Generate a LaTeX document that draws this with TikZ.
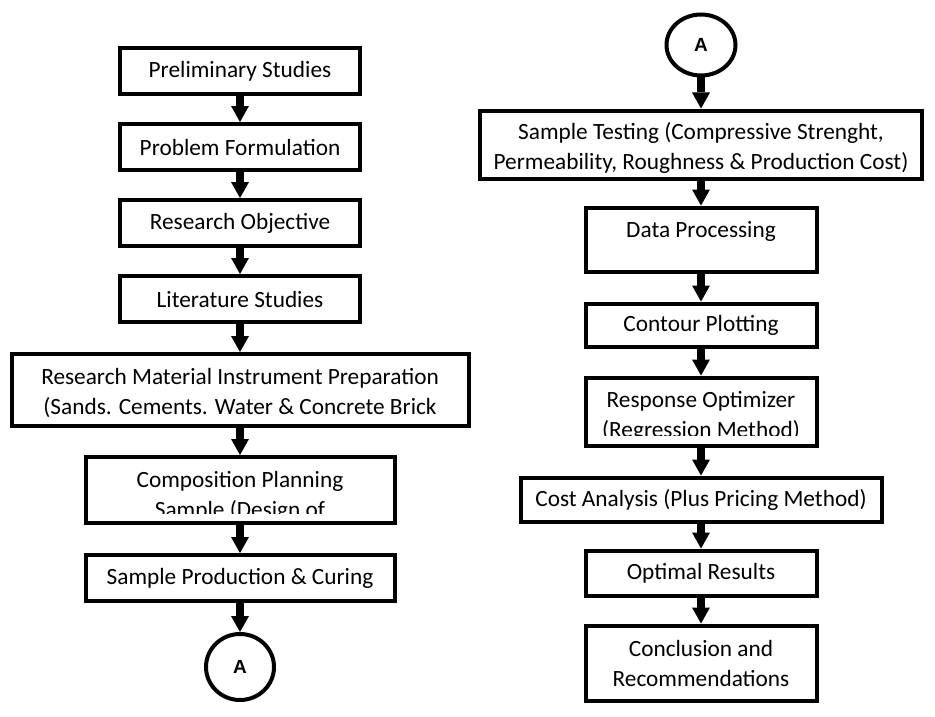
\documentclass[tikz,border=0pt]{standalone}
\usepackage{fontspec}
\setmainfont{Carlito}
\newfontfamily\linkfont{Liberation Sans}
\usetikzlibrary{shapes.geometric,arrows.meta,positioning,calc}
\tikzset{
	flowbox/.style={rectangle, draw=black, line width=4pt, fill=white, inner sep=0pt,
		align=center, font=\fontsize{23.3}{30}\selectfont},
	flowtext/.style={inner sep=0pt, align=center, anchor=north, font=\fontsize{23.3}{30}\selectfont},
	linkcirc/.style={ellipse, draw=black, line width=4pt, fill=white, inner sep=0pt,
		font=\linkfont\bfseries\fontsize{19}{20}\selectfont},
	flowarr/.style={-{Triangle[length=16pt,width=18pt,line width=0pt]}, line width=8pt}
}
\begin{document}
\begin{tikzpicture}[x=1pt, y=-1pt]
	\useasboundingbox (0,0) rectangle (935,717);
	% left column
	\node[flowbox, minimum width=240pt, minimum height=46pt] (prelim) at (240,71) {Preliminary Studies};
	\node[flowbox, minimum width=240pt, minimum height=46pt, below=26pt of prelim] (problem) {Problem Formulation};
	\node[flowbox, minimum width=240pt, minimum height=46pt, below=26pt of problem] (objective) {Research Objective};
	\node[flowbox, minimum width=240pt, minimum height=46pt, below=26pt of objective] (litstudy) {Literature Studies};
	\node[flowbox, minimum width=457pt, minimum height=72pt, below=28pt of litstudy] (material) {};
	\begin{scope}
		\clip (material.north west) rectangle ($(material.south east)+(0,-10)$);
		\node[flowtext] (materialtxt) at ($(material.north)+(0,16)$)
			{Research Material Instrument Preparation\\(Sands. Cements. Water \& Concrete Brick};
	\end{scope}
	\node[flowbox, minimum width=309pt, minimum height=66pt, below=27pt of material] (compos) {};
	\begin{scope}
		\clip (compos.north west) rectangle ($(compos.south east)+(0,-12)$);
		\node[flowtext] (compostxt) at ($(compos.north)+(0,16)$) {Composition Planning\\Sample (Design of};
	\end{scope}
	\node[flowbox, minimum width=309pt, minimum height=46pt, below=28pt of compos] (production) {Sample Production \& Curing};
	\node[linkcirc, minimum width=68pt, minimum height=66pt, below=29pt of production] (linkout) {A};
	% right column
	\node[linkcirc, minimum width=69pt, minimum height=61pt] (linkin) at (701,45) {A};
	\node[flowbox, minimum width=442pt, minimum height=68pt, below=31pt of linkin] (testing) {};
	\begin{scope}
		\clip (testing.north west) rectangle ($(testing.south east)+(0,-8)$);
		\node[flowtext] (testingtxt) at ($(testing.north)+(0,14)$)
			{Sample Testing (Compressive Strenght,\\Permeability, Roughness \& Production Cost)};
	\end{scope}
	\node[flowbox, minimum width=231pt, text height=30pt, text depth=34pt, below=25pt of testing] (dataproc) {Data Processing};
	\node[flowbox, minimum width=231pt, minimum height=43pt, below=28pt of dataproc] (contour) {Contour Plotting};
	\node[flowbox, minimum width=231pt, minimum height=68pt, below=27pt of contour] (optimizer) {};
	\begin{scope}
		\clip (optimizer.north west) rectangle ($(optimizer.south east)+(0,-12)$);
		\node[flowtext] (optimizertxt) at ($(optimizer.north)+(0,16)$) {Response Optimizer\\(Regression Method)};
	\end{scope}
	\node[flowbox, minimum width=361pt, minimum height=44pt, below=28pt of optimizer] (cost) {Cost Analysis (Plus Pricing Method)};
	\node[flowbox, minimum width=231pt, minimum height=45pt, below=25pt of cost] (optimal) {Optimal Results};
	\node[flowbox, minimum width=231pt, minimum height=75pt, below=26pt of optimal] (conclusion) {Conclusion and\\Recommendations};
	% arrows
	\draw[flowarr] (prelim) -- (problem);
	\draw[flowarr] (problem) -- (objective);
	\draw[flowarr] (objective) -- (litstudy);
	\draw[flowarr] (litstudy) -- (material);
	\draw[flowarr] (material) -- (compos);
	\draw[flowarr] (compos) -- (production);
	\draw[flowarr] (production) -- (linkout);
	\draw[flowarr] (linkin) -- (testing);
	\draw[flowarr] (testing) -- (dataproc);
	\draw[flowarr] (dataproc) -- (contour);
	\draw[flowarr] (contour) -- (optimizer);
	\draw[flowarr] (optimizer) -- (cost);
	\draw[flowarr] (cost) -- (optimal);
	\draw[flowarr] (optimal) -- (conclusion);
\end{tikzpicture}
\end{document}
